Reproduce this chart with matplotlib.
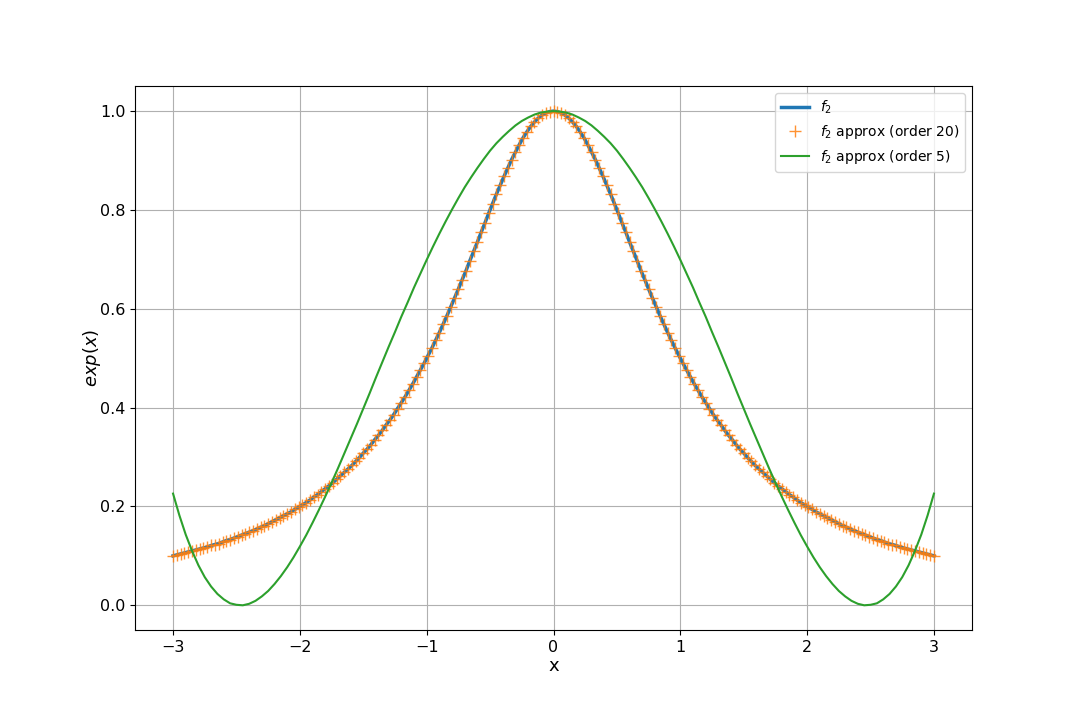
"""
plot.py
───────
f2(x) and two polynomial approximations of it on [-3, 3].
Writes out.png.
"""

import numpy as np
import matplotlib
matplotlib.use("Agg")
import matplotlib.pyplot as plt


# ──────────────────────────────────────────────────────────────────────────────
# Data
# ──────────────────────────────────────────────────────────────────────────────

# dense grid, step 0.03 from -3 to 3
x_dense = np.linspace(-3.0, 3.0, 201)

f2_vals = [
    0.100, 0.102, 0.104, 0.106, 0.108, 0.110, 0.112, 0.114, 0.116, 0.118,
    0.121, 0.123, 0.125, 0.128, 0.131, 0.133, 0.136, 0.139, 0.142, 0.145,
    0.148, 0.151, 0.154, 0.158, 0.161, 0.165, 0.169, 0.173, 0.177, 0.181,
    0.185, 0.189, 0.194, 0.198, 0.203, 0.208, 0.213, 0.219, 0.224, 0.230,
    0.236, 0.242, 0.248, 0.255, 0.262, 0.269, 0.276, 0.283, 0.291, 0.299,
    0.308, 0.316, 0.325, 0.335, 0.344, 0.354, 0.365, 0.375, 0.386, 0.398,
    0.410, 0.422, 0.435, 0.448, 0.462, 0.476, 0.490, 0.505, 0.520, 0.536,
    0.552, 0.569, 0.586, 0.604, 0.622, 0.640, 0.659, 0.677, 0.697, 0.716,
    0.735, 0.755, 0.774, 0.794, 0.813, 0.832, 0.850, 0.868, 0.885, 0.902,
    0.917, 0.932, 0.946, 0.958, 0.969, 0.978, 0.986, 0.992, 0.996, 0.999,
    1.000,
    0.999, 0.996, 0.992, 0.986, 0.978, 0.969, 0.958, 0.946, 0.932, 0.917,
    0.902, 0.885, 0.868, 0.850, 0.832, 0.813, 0.794, 0.774, 0.755, 0.735,
    0.716, 0.697, 0.677, 0.659, 0.640, 0.622, 0.604, 0.586, 0.569, 0.552,
    0.536, 0.520, 0.505, 0.490, 0.476, 0.462, 0.448, 0.435, 0.422, 0.410,
    0.398, 0.386, 0.375, 0.365, 0.354, 0.344, 0.335, 0.325, 0.316, 0.308,
    0.299, 0.291, 0.283, 0.276, 0.269, 0.262, 0.255, 0.248, 0.242, 0.236,
    0.230, 0.224, 0.219, 0.213, 0.208, 0.203, 0.198, 0.194, 0.189, 0.185,
    0.181, 0.177, 0.173, 0.169, 0.165, 0.161, 0.158, 0.154, 0.151, 0.148,
    0.145, 0.142, 0.139, 0.136, 0.133, 0.131, 0.128, 0.125, 0.123, 0.121,
    0.118, 0.116, 0.114, 0.112, 0.110, 0.108, 0.106, 0.104, 0.102, 0.100,
]

# order-20 approximation sits on top of f2 at this resolution
approx20_vals = list(f2_vals)

# coarser grid, step 0.05 from -3 to 3
x_coarse = np.linspace(-3.0, 3.0, 121)

approx5_vals = [
    0.226, 0.182, 0.143, 0.110, 0.081, 0.057, 0.038, 0.023, 0.012, 0.004,
    0.001, 0.000, 0.003, 0.009, 0.018, 0.029, 0.043, 0.059, 0.077, 0.097,
    0.119, 0.142, 0.167, 0.193, 0.220, 0.248, 0.277, 0.307, 0.337, 0.367,
    0.398, 0.429, 0.461, 0.492, 0.523, 0.553, 0.584, 0.613, 0.643, 0.671,
    0.699, 0.726, 0.752, 0.777, 0.801, 0.824, 0.846, 0.866, 0.885, 0.903,
    0.920, 0.935, 0.948, 0.960, 0.971, 0.980, 0.987, 0.993, 0.997, 0.999,
    1.000,
    0.999, 0.997, 0.993, 0.987, 0.980, 0.971, 0.960, 0.948, 0.935, 0.920,
    0.903, 0.885, 0.866, 0.846, 0.824, 0.801, 0.777, 0.752, 0.726, 0.699,
    0.671, 0.643, 0.613, 0.584, 0.553, 0.523, 0.492, 0.461, 0.429, 0.398,
    0.367, 0.337, 0.307, 0.277, 0.248, 0.220, 0.193, 0.167, 0.142, 0.119,
    0.097, 0.077, 0.059, 0.043, 0.029, 0.018, 0.009, 0.003, 0.000, 0.001,
    0.004, 0.012, 0.023, 0.038, 0.057, 0.081, 0.110, 0.143, 0.182, 0.226,
]


# ──────────────────────────────────────────────────────────────────────────────
# Plot
# ──────────────────────────────────────────────────────────────────────────────

def main():
    plt.rcParams["font.size"] = 10
    plt.rcParams["xtick.labelsize"] = 11.5
    plt.rcParams["ytick.labelsize"] = 11.5

    fig, ax = plt.subplots(figsize=(10.8, 7.2), dpi=100)
    fig.subplots_adjust(left=0.125, right=0.9, bottom=0.125, top=0.88)

    ax.plot(x_dense, f2_vals, color="#1f77b4", linewidth=2.5, label="$f_2$")
    ax.plot(x_dense, approx20_vals, linestyle="none", marker="+",
            markersize=8, color="#ff7f0e", alpha=0.85,
            label="$f_2$ approx (order 20)")
    ax.plot(x_coarse, approx5_vals, color="#2ca02c", linewidth=1.5,
            label="$f_2$ approx (order 5)")

    ax.set_xlabel("x", fontsize=13, labelpad=1.5)
    ax.set_ylabel("$exp(x)$", fontsize=13, labelpad=-2)
    ax.grid(True)
    ax.legend(loc="upper right", fontsize=10)

    fig.savefig("out.png", dpi=100)
    plt.close(fig)


if __name__ == "__main__":
    main()
